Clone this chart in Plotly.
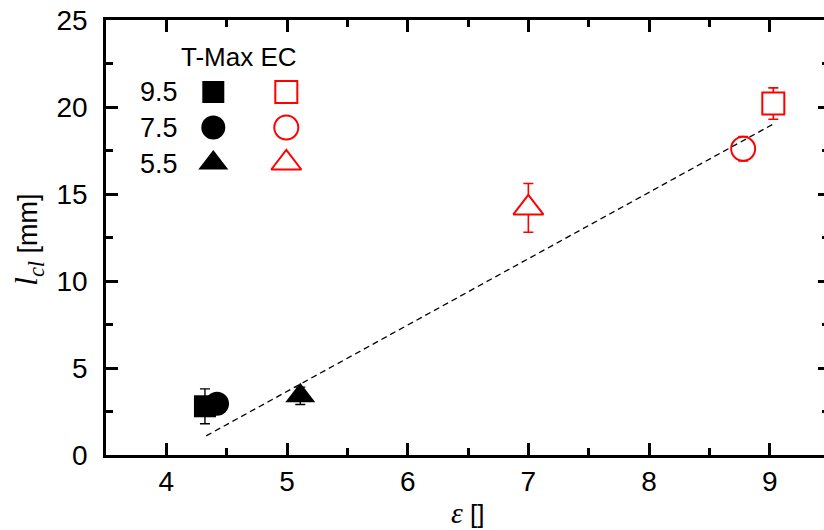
import plotly.graph_objects as go

# T-Max series (filled black markers), one point per temperature level
tmax_eps = [4.32, 4.42, 5.11]
tmax_lcl = [2.8, 2.95, 3.4]
tmax_err = [1.0, 0.5, 0.5]

# EC series (open red markers)
ec_eps = [9.03, 8.78, 7.0]
ec_lcl = [20.2, 17.6, 14.2]
ec_err = [0.9, 0.7, 1.4]

# marker shape per level: 9.5, 7.5, 5.5
levels = ["9.5", "7.5", "5.5"]
symbols = ["square", "circle", "triangle-up"]
sizes = [22, 24, 26]

# linear trend line end points
trend_eps = [4.33, 9.04]
trend_lcl = [1.1, 19.06]

RED = "#ff0000"
SANS = "Liberation Sans, Arial, sans-serif"
SERIF = "Liberation Serif"

# plot area in pixels (for placing the in-plot key)
L, R, T, B = 106, 824, 20, 455


def px_x(x):
    return (x - L) / (R - L)


def px_y(y):
    return (B - y) / (B - T)


fig = go.Figure()

fig.add_trace(go.Scatter(
    x=tmax_eps, y=tmax_lcl, mode="markers", opacity=1,
    marker=dict(symbol=symbols, size=sizes, color="black", opacity=1,
                line=dict(width=0)),
    error_y=dict(type="data", array=tmax_err, color="black",
                 thickness=1.4, width=5),
    showlegend=False))

fig.add_trace(go.Scatter(
    x=ec_eps, y=ec_lcl, mode="markers", opacity=1,
    marker=dict(symbol=symbols, size=sizes, color="white", opacity=1,
                line=dict(width=2, color=RED)),
    error_y=dict(type="data", array=ec_err, color=RED,
                 thickness=1.6, width=5),
    showlegend=False))

fig.add_trace(go.Scatter(
    x=trend_eps, y=trend_lcl, mode="lines",
    line=dict(color="black", width=1.3, dash="6px,4px"),
    showlegend=False, hoverinfo="skip"))

# key: one row per level, filled (T-Max) and open (EC) columns
row_y = [92 + 35.5 * i for i in range(len(levels))]
col_tmax, col_ec = 213.3, 286.3
fig.add_trace(go.Scatter(
    x=[px_x(col_tmax)] * len(levels), y=[px_y(v) for v in row_y],
    mode="markers", xaxis="x3", yaxis="y3", opacity=1,
    marker=dict(symbol=symbols, size=sizes, color="black", opacity=1,
                line=dict(width=0)),
    showlegend=False, hoverinfo="skip"))
fig.add_trace(go.Scatter(
    x=[px_x(col_ec)] * len(levels), y=[px_y(v) for v in row_y],
    mode="markers", xaxis="x3", yaxis="y3", opacity=1,
    marker=dict(symbol=symbols, size=sizes, color="white", opacity=1,
                line=dict(width=2, color=RED)),
    showlegend=False, hoverinfo="skip"))

annotations = [
    dict(text="T-Max EC", x=px_x(238.5), y=px_y(57), xref="paper", yref="paper",
         xanchor="center", yanchor="middle", showarrow=False,
         font=dict(family=SANS, size=26, color="black")),
]
for lab, yy in zip(levels, row_y):
    annotations.append(dict(
        text=lab, x=px_x(180), y=px_y(yy + 0.5), xref="paper", yref="paper",
        xanchor="right", yanchor="middle", showarrow=False,
        font=dict(family=SANS, size=27, color="black")))

# axis titles
annotations.append(dict(
    text=(f"<span style='font-family:{SERIF};font-size:32px'><i>l</i>"
          "<sub><i>cl</i></sub></span> [mm]"),
    x=0, y=px_y(240), xref="paper", yref="paper", xanchor="center",
    yanchor="middle", xshift=-78, textangle=-90, showarrow=False,
    font=dict(family=SANS, size=27, color="black")))
annotations.append(dict(
    text=f"<span style='font-family:{SERIF};font-size:30px'><i>ε</i></span> []",
    x=px_x(468), y=0, xref="paper", yref="paper", xanchor="center",
    yanchor="middle", yshift=-57, showarrow=False,
    font=dict(family=SANS, size=26, color="black")))

axis_common = dict(
    showgrid=False, zeroline=False, ticks="inside", tickwidth=2.5,
    ticklen=12, tickcolor="black", showline=True, linewidth=2.5,
    linecolor="black", tickfont=dict(family=SANS, size=28, color="black"),
)

fig.update_layout(
    width=824, height=530,
    margin=dict(l=L, r=824 - R, t=T, b=530 - B),
    paper_bgcolor="white", plot_bgcolor="white",
    xaxis=dict(range=[3.5, 9.45], dtick=1, tick0=0, mirror="ticks",
               ticklabelstandoff=0,
               minor=dict(dtick=0.5, ticks="inside", ticklen=7,
                          tickwidth=2.5, tickcolor="black"),
               **axis_common),
    yaxis=dict(range=[0, 25], dtick=5, tick0=0, mirror=False,
               ticklabelstandoff=10,
               minor=dict(dtick=2.5, ticks="inside", ticklen=7,
                          tickwidth=2.5, tickcolor="black"),
               **axis_common),
    yaxis2=dict(range=[0, 25], dtick=5, tick0=0, overlaying="y",
                side="right", anchor="x", showline=False, showgrid=False,
                zeroline=False, showticklabels=False, ticks="inside",
                ticklen=6, tickwidth=2.5, tickcolor="black",
                minor=dict(dtick=2.5, ticks="inside", ticklen=2,
                           tickwidth=2.5, tickcolor="black")),
    xaxis3=dict(range=[0, 1], overlaying="x", visible=False),
    yaxis3=dict(range=[0, 1], overlaying="y", visible=False),
    annotations=annotations,
    showlegend=False,
)

# placeholder trace so the right-hand tick axis is rendered
fig.add_trace(go.Scatter(x=[None], y=[None], yaxis="y2", showlegend=False,
                         hoverinfo="skip"))

fig.write_html("out.html")
